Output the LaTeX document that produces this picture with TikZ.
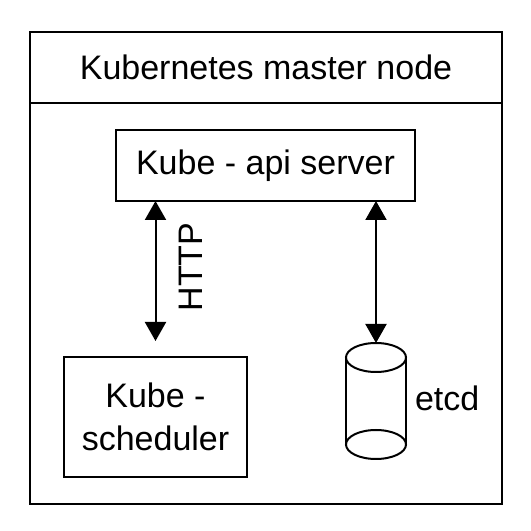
\documentclass[tikz,border=0pt]{standalone}
\usepackage{fontspec}
\setmainfont{Liberation Sans}
\usetikzlibrary{arrows.meta, positioning, calc}

\begin{document}
\begin{tikzpicture}[
		x=1pt, y=1pt,
		every node/.style={font=\fontsize{34}{43}\selectfont, inner sep=0pt, outer sep=0pt},
		titlebox/.style={draw, rectangle, minimum width=472pt, minimum height=71pt},
		masterbox/.style={draw, rectangle, minimum width=472pt, minimum height=401pt},
		comp/.style={draw, rectangle, align=center},
		store/.style={rectangle, minimum width=60pt, minimum height=116pt},
		link/.style={<->, >={Triangle[width=21pt,length=19pt]}},
		line width=2pt, black
		]
		\useasboundingbox (0,0) rectangle (531,531);
		% Diagram drawing
		\node[titlebox] at (266,463.5) (title) {Kubernetes master node};
		\node[masterbox, below = 0pt of title] (master) {};
		\node[comp, minimum width=299pt, minimum height=71pt, below = 27pt of title, xshift=-0.5pt] (api) {Kube - api server};
		\node[comp, minimum width=183pt, minimum height=120pt, below = 156pt of api, xshift=-110pt] (sched) {Kube -\\scheduler};
		\node[store, below = 142pt of api, xshift=110.5pt] (etcd) {};
		\node[right = 9pt of etcd, yshift=3pt] (etcdlabel) {etcd};
		% draw the database
		\draw ([yshift=-14.5pt]etcd.north) ellipse [x radius=30pt, y radius=14.5pt];
		\draw ([yshift=14.5pt]etcd.south) ellipse [x radius=30pt, y radius=14.5pt];
		\draw ([yshift=-14.5pt]etcd.north west) -- ([yshift=14.5pt]etcd.south west);
		\draw ([yshift=-14.5pt]etcd.north east) -- ([yshift=14.5pt]etcd.south east);
		% draw arrows
		\draw[link, shorten >=16pt] (sched.north |- api.south) -- coordinate[midway] (mid) (sched.north);
		\draw[link] (etcd.north |- api.south) -- (etcd.north);
		\node[rotate=90, anchor=north] at ([xshift=24pt, yshift=12pt]mid) (http) {HTTP};
\end{tikzpicture}
\end{document}
